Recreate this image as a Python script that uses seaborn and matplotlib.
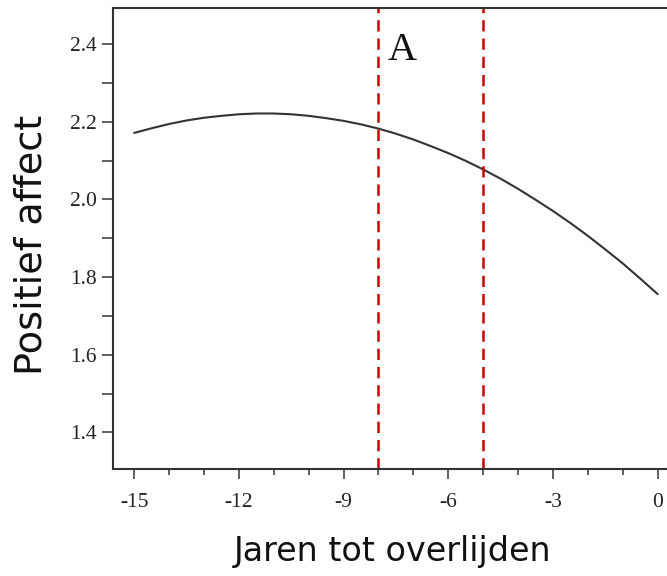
import numpy as np
import pandas as pd
import matplotlib
matplotlib.use("Agg")
import matplotlib.pyplot as plt
import seaborn as sns
from matplotlib.ticker import MultipleLocator

# data (every half year)
years = [-15, -14.5, -14, -13.5, -13, -12.5, -12, -11.5, -11, -10.5, -10,
         -9.5, -9, -8.5, -8, -7.5, -7, -6.5, -6, -5.5, -5, -4.5, -4,
         -3.5, -3, -2.5, -2, -1.5, -1, -0.5, 0]
affect = [2.171, 2.183, 2.194, 2.203, 2.210, 2.215, 2.219, 2.221, 2.221,
          2.219, 2.215, 2.209, 2.202, 2.193, 2.182, 2.169, 2.154, 2.137,
          2.119, 2.099, 2.077, 2.053, 2.027, 1.999, 1.970, 1.939, 1.906,
          1.871, 1.835, 1.796, 1.756]
window = [-8, -5]
window_label = "A"
x_ticks = [-15, -12, -9, -6, -3, 0]
y_ticks = [1.4, 1.6, 1.8, 2.0, 2.2, 2.4]

df = pd.DataFrame({"jaren": years, "affect": affect})

sns.set_style("ticks")
plt.rcParams["font.family"] = ["DejaVu Sans"]

fig = plt.figure(figsize=(6.67, 5.76), dpi=100)
ax = fig.add_axes([113 / 667, (576 - 469) / 576, (667 - 113) / 667, (469 - 8) / 576])

sns.lineplot(data=df, x="jaren", y="affect", ax=ax, color="#333333", linewidth=1.5)

# venster A tussen de rode stippellijnen
for w in window:
    ax.axvline(w, color="#cc0000", linewidth=1.8, linestyle=(0, (4.5, 2.8)))

ax.text(-7.33, 2.383, window_label, fontsize=29, family="Liberation Serif",
        ha="center", va="center", color="#111111")

ax.set_xlim(-15.607, 0.266)
ax.set_ylim(1.306, 2.4925)
ax.set_xticks(x_ticks)
ax.set_yticks(y_ticks)
ax.set_xticklabels([f"{t}" for t in x_ticks])
ax.set_yticklabels([f"{t:.1f}" for t in y_ticks])
ax.xaxis.set_minor_locator(MultipleLocator(1))
ax.yaxis.set_minor_locator(MultipleLocator(0.1))

for lab in ax.get_xticklabels() + ax.get_yticklabels():
    lab.set_family("Liberation Serif")
    lab.set_fontsize(15.5)
    lab.set_color("#222222")

ax.tick_params(axis="x", which="major", length=7, width=1.1, pad=10, color="#333333")
ax.tick_params(axis="x", which="minor", length=4.5, width=1.1, color="#333333")
ax.tick_params(axis="y", which="both", length=8, width=1.1, pad=3.5, color="#333333")

for s in ["left", "bottom", "top"]:
    ax.spines[s].set_linewidth(1.5)
    ax.spines[s].set_color("#333333")
ax.spines["right"].set_visible(False)

ax.set_xlabel("")
ax.set_ylabel("")
fig.text(393 / 667, 1 - 551 / 576, "Jaren tot overlijden",
         fontsize=24, ha="center", va="center", color="#111111")
fig.text(32 / 667, 1 - 245 / 576, "Positief affect", fontsize=27.5,
         rotation=90, ha="center", va="center", color="#111111")

fig.savefig("out.png", dpi=100)
